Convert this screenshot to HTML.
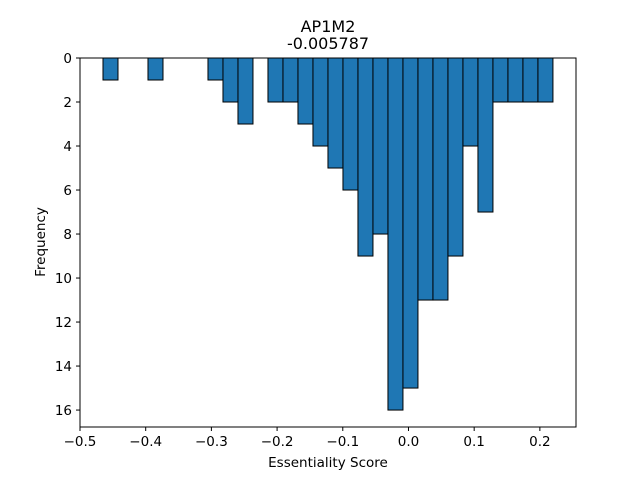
<!DOCTYPE html>
<html><head><meta charset="utf-8"><style>body{margin:0;background:#fff}svg{display:block;font-family:"DejaVu Sans","Liberation Sans",sans-serif}</style></head>
<body>
<svg id="chart" width="640" height="480" xmlns="http://www.w3.org/2000/svg">
<rect width="640" height="480" fill="#fff"/>
<text x="328" y="32" font-size="16" text-anchor="middle">AP1M2</text>
<text x="328" y="49" font-size="16" text-anchor="middle">-0.005787</text>
<g id="bars"></g>
<rect x="80" y="58" width="496" height="369" fill="none" stroke="#000" stroke-width="1"/>
<g id="axes"></g>
<text x="328" y="467" font-size="13.5" text-anchor="middle">Essentiality Score</text>
<text x="45" y="242" font-size="13.5" text-anchor="middle" transform="rotate(-90 45 242)">Frequency</text>
</svg>
<script>
const counts=[1,0,0,1,0,0,0,1,2,3,0,2,2,3,4,5,6,9,8,16,15,11,11,9,4,7,2,2,2,2];
const binMin=-0.465;
const binMax=0.2199;
const xTicks=[-0.5,-0.4,-0.3,-0.2,-0.1,0.0,0.1,0.2];
const xTickLabels=["\u22120.5","\u22120.4","\u22120.3","\u22120.2","\u22120.1","0.0","0.1","0.2"];
const yTicks=[0,2,4,6,8,10,12,14,16];
const ns="http://www.w3.org/2000/svg";
const X=v=>80+(v+0.5)/0.755*496;
const Y=v=>58+v/16.77*369;
const bars=document.getElementById('bars'),axes=document.getElementById('axes');
const w=(binMax-binMin)/counts.length;
counts.forEach((c,i)=>{if(!c)return;
 const r=document.createElementNS(ns,'rect');
 const x0=X(binMin+i*w),x1=X(binMin+(i+1)*w);
 r.setAttribute('x',x0);r.setAttribute('y',Y(0));r.setAttribute('width',x1-x0);r.setAttribute('height',Y(c)-Y(0));
 r.setAttribute('fill','#1f77b4');r.setAttribute('stroke','#000');r.setAttribute('stroke-width','1');
 
 
 bars.appendChild(r);});
xTicks.forEach((t,i)=>{const x=X(t);
 const l=document.createElementNS(ns,'line');l.setAttribute('x1',x);l.setAttribute('x2',x);l.setAttribute('y1',427);l.setAttribute('y2',431);l.setAttribute('stroke','#000');
 
 
 axes.appendChild(l);
 const s=document.createElementNS(ns,'text');s.setAttribute('x',x);s.setAttribute('y',446);s.setAttribute('font-size','13.5');s.setAttribute('text-anchor','middle');s.textContent=xTickLabels[i];
 
 
 axes.appendChild(s);});
yTicks.forEach(t=>{const y=Y(t);
 const l=document.createElementNS(ns,'line');l.setAttribute('x1',76);l.setAttribute('x2',80);l.setAttribute('y1',y);l.setAttribute('y2',y);l.setAttribute('stroke','#000');
 
 
 axes.appendChild(l);
 const s=document.createElementNS(ns,'text');s.setAttribute('x',72);s.setAttribute('y',y+5);s.setAttribute('font-size','13.5');s.setAttribute('text-anchor','end');s.textContent=t;
 
 
 axes.appendChild(s);});
</script>
</body></html>
